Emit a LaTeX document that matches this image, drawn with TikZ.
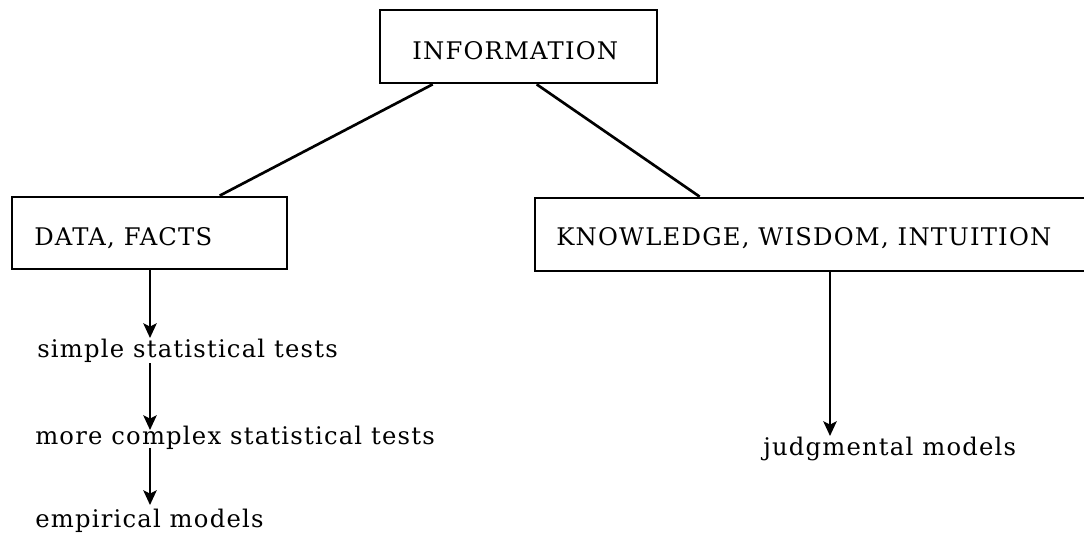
\documentclass[tikz,border=0pt]{standalone}
\usepackage{fontspec}
\usetikzlibrary{arrows.meta,calc}
\newfontfamily\lblfamily{DejaVu Serif}[LetterSpace=5]
\newcommand\lblfont{\lblfamily\fontsize{18.2}{22}\selectfont}
\begin{document}
\begin{tikzpicture}[x=0.75pt,y=-0.75pt,
  box/.style={draw, line width=2pt, rectangle, inner sep=0pt},
  lbl/.style={anchor=base west, inner sep=0pt, font=\lblfont},
  link/.style={line width=2pt},
  arr/.style={line width=2pt, -{Stealth[length=11pt,width=10pt,inset=2.5pt]}}]
\useasboundingbox (0,0) rectangle (1084,538);
% boxes
\node[box, minimum width=207.75pt, minimum height=54.75pt] (info) at (518.5,46.5) {};
\node[box, minimum width=206.25pt, minimum height=54pt] (data) at (149.5,233) {};
\node[box, minimum width=423.75pt, minimum height=54.75pt] (kw) at (817.5,234.5) {};
% texts
\node[lbl] (tinfo) at (412,60) {INFORMATION};
\node[lbl] (tdata) at (34,245) {DATA, FACTS};
\node[lbl] (tkw) at (556,245) {KNOWLEDGE, WISDOM, INTUITION};
\node[lbl] (simple) at (37,357) {simple statistical tests};
\node[lbl] (complex) at (35,444) {more complex statistical tests};
\node[lbl] (empir) at (35,527) {empirical models};
\node[lbl] (judg) at (763,455) {judgmental models};
% tree links
\draw[link] ($(info.south west)+(54,0)$) -- ($(data.north west)+(209,0)$);
\draw[link] ($(info.south west)+(158,0)$) -- ($(kw.north west)+(166,0)$);
% arrows
\coordinate (e1) at (150,338);
\coordinate (s2) at (150,363);
\coordinate (e2) at (150,430);
\coordinate (s3) at (150,448);
\coordinate (e3) at (150,505);
\coordinate (e4) at (830,436);
\draw[arr] (data.south -| e1) -- (e1);
\draw[arr] (s2) -- (e2);
\draw[arr] (s3) -- (e3);
\draw[arr] (kw.south -| e4) -- (e4);
\end{tikzpicture}
\end{document}
